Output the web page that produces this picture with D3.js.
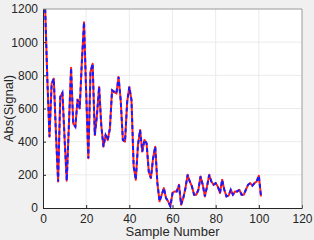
<!DOCTYPE html>
<html>
<head>
<meta charset="utf-8">
<script src="https://cdn.jsdelivr.net/npm/d3@7"></script>
<style>
  html, body { margin: 0; padding: 0; background: #f0f0f0; }
  svg { display: block; font-family: "Liberation Sans", Arial, sans-serif; }
</style>
</head>
<body>
<div id="chart"></div>
<script>
// signal magnitude per sample
var sampleValues = [
	1200, 780, 430, 750, 780, 450, 160, 670, 695, 420,
	165, 500, 845, 510, 490, 655, 600, 880, 1120, 700,
	300, 820, 870, 440, 560, 730, 500, 370, 440, 410,
	480, 710, 700, 690, 790, 650, 410, 400, 640, 730,
	650, 250, 170, 380, 470, 340, 410, 390, 220, 180,
	300, 370, 150, 40, 80, 120, 60, 40, 10, 90,
	100, 100, 140, 20, 60, 120, 200, 160, 130, 80,
	80, 110, 190, 140, 70, 130, 200, 160, 140, 150,
	130, 90, 170, 110, 70, 75, 110, 80, 100, 100,
	110, 80, 80, 110, 140, 150, 135, 150, 160, 195,
	70
];
var xTicks = [0, 20, 40, 60, 80, 100, 120];
var yTicks = [0, 200, 400, 600, 800, 1000, 1200];
var xLabel = 'Sample Number';
var yLabel = 'Abs(Signal)';

var width = 314, height = 240;
var margin = {left: 43, right: 12, top: 9, bottom: 32};

var data = sampleValues.map(function(v, i) { return {x: i + 1, y: v}; });

var svg = d3.select('#chart').append('svg')
	.attr('width', width)
	.attr('height', height);

var x = d3.scaleLinear().domain([0, 120]).range([margin.left, width - margin.right]);
var y = d3.scaleLinear().domain([0, 1200]).range([height - margin.bottom, margin.top]);

// plot area
svg.append('rect')
	.attr('x', x(0)).attr('y', y(1200))
	.attr('width', x(120) - x(0)).attr('height', y(0) - y(1200))
	.attr('fill', '#fff');

// grid
svg.append('g').selectAll('line.gx')
	.data(xTicks.slice(1, -1)).enter().append('line')
	.attr('x1', function(d) { return x(d); }).attr('x2', function(d) { return x(d); })
	.attr('y1', y(0)).attr('y2', y(1200))
	.attr('stroke', '#ebebeb').attr('stroke-width', 1);
svg.append('g').selectAll('line.gy')
	.data(yTicks.slice(1, -1)).enter().append('line')
	.attr('y1', function(d) { return y(d); }).attr('y2', function(d) { return y(d); })
	.attr('x1', x(0)).attr('x2', x(120))
	.attr('stroke', '#ebebeb').attr('stroke-width', 1);

// lines
var line = d3.line().x(function(d) { return x(d.x); }).y(function(d) { return y(d.y); });
svg.append('path').datum(data)
	.attr('d', line).attr('fill', 'none')
	.attr('stroke', '#ff2020').attr('stroke-width', 2)
	.attr('stroke-linejoin', 'round');
svg.append('path').datum(data)
	.attr('d', line).attr('fill', 'none')
	.attr('stroke', '#1a1aff').attr('stroke-width', 2)
	.attr('stroke-dasharray', '4,3');

// axes
var xAxis = d3.axisBottom(x).tickValues(xTicks).tickFormat(d3.format('d'))
	.tickSizeInner(-3).tickSizeOuter(0).tickPadding(6);
var yAxis = d3.axisLeft(y).tickValues(yTicks).tickFormat(d3.format('d'))
	.tickSizeInner(-3).tickSizeOuter(0).tickPadding(5);

var gx = svg.append('g').attr('transform', 'translate(0,' + y(0) + ')').call(xAxis);
var gy = svg.append('g').attr('transform', 'translate(' + x(0) + ',0)').call(yAxis);
[gx, gy].forEach(function(g) {
	g.select('.domain').attr('stroke', '#262626');
	g.selectAll('.tick line').attr('stroke', '#262626');
	g.selectAll('.tick text').attr('fill', '#262626')
		.style('font-size', '12px').style('font-family', '"Liberation Sans", Arial, sans-serif');
});

// box top and right
svg.append('line')
	.attr('x1', x(0)).attr('x2', x(120)).attr('y1', y(1200)).attr('y2', y(1200))
	.attr('stroke', '#9a9a9a');
svg.append('line')
	.attr('x1', x(120)).attr('x2', x(120)).attr('y1', y(1200)).attr('y2', y(0))
	.attr('stroke', '#9a9a9a');

// labels
svg.append('text')
	.attr('x', (x(0) + x(120)) / 2).attr('y', height - 4)
	.attr('text-anchor', 'middle').attr('fill', '#262626')
	.style('font-size', '13px')
	.text(xLabel);
svg.append('text')
	.attr('transform', 'translate(13,' + ((y(0) + y(1200)) / 2) + ') rotate(-90)')
	.attr('text-anchor', 'middle').attr('fill', '#262626')
	.style('font-size', '13px')
	.text(yLabel);
</script>
</body>
</html>
